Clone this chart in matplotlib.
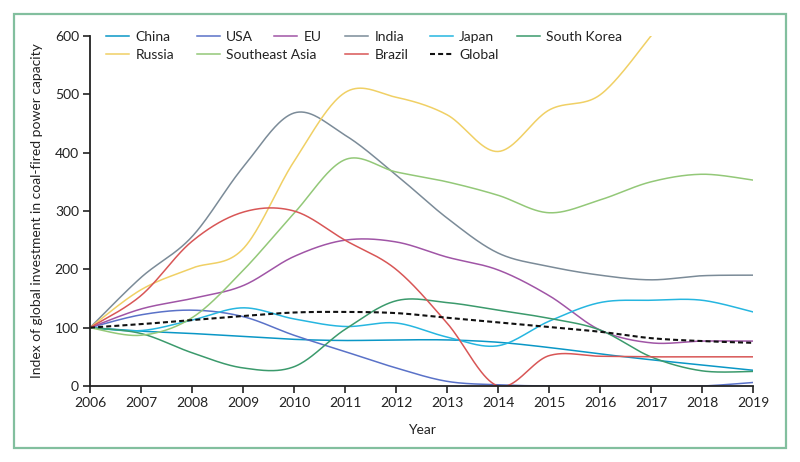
import numpy as np
import matplotlib
matplotlib.use("Agg")
import matplotlib.pyplot as plt
from matplotlib.patches import Rectangle

years = list(range(2006, 2020))

china = [100, 94, 90, 85, 80, 78, 79, 79, 75, 66, 55, 45, 36, 27]
usa = [100, 122, 130, 119, 87, 59, 31, 8, 2, 0, 0, 0, 0, 6]
eu = [100, 132, 150, 172, 222, 250, 247, 221, 199, 155, 96, 74, 77, 77]
india = [100, 186, 256, 375, 468, 430, 362, 288, 228, 205, 190, 182, 189, 190]
japan = [100, 95, 113, 134, 115, 102, 108, 84, 69, 111, 143, 147, 147, 127]
south_korea = [100, 90, 57, 31, 33, 97, 146, 143, 130, 116, 96, 50, 26, 25]
russia = [100, 165, 202, 235, 385, 503, 495, 465, 402, 473, 499, 600, np.nan, np.nan]
southeast_asia = [100, 87, 117, 198, 296, 388, 367, 350, 327, 297, 319, 350, 363, 353]
brazil = [100, 155, 248, 298, 300, 250, 200, 108, 0, 52, 51, 50, 50, 50]
global_idx = [100, 106, 113, 120, 126, 127, 125, 117, 109, 101, 93, 82, 77, 74]

series = [
    ("China", china, "#0a97c6", "-"),
    ("USA", usa, "#5a72c8", "-"),
    ("EU", eu, "#a055a6", "-"),
    ("India", india, "#7b8b98", "-"),
    ("Japan", japan, "#26b6e0", "-"),
    ("South Korea", south_korea, "#3b9a6c", "-"),
    ("Russia", russia, "#f0d065", "-"),
    ("Southeast Asia", southeast_asia, "#93c878", "-"),
    ("Brazil", brazil, "#d85656", "-"),
    ("Global", global_idx, "#111111", "--"),
]


def catmull_rom(x, y, n=40):
    x = np.asarray(x, float)
    y = np.asarray(y, float)
    m = ~np.isnan(y)
    x, y = x[m], y[m]
    px = np.concatenate([[x[0]], x, [x[-1]]])
    py = np.concatenate([[y[0]], y, [y[-1]]])
    xs, ys = [], []
    t = np.linspace(0, 1, n, endpoint=False)
    for i in range(1, len(px) - 2):
        def cr(a0, a1, a2, a3):
            return 0.5 * ((2 * a1) + (-a0 + a2) * t + (2 * a0 - 5 * a1 + 4 * a2 - a3) * t ** 2
                          + (-a0 + 3 * a1 - 3 * a2 + a3) * t ** 3)
        xs.append(cr(px[i - 1], px[i], px[i + 1], px[i + 2]))
        ys.append(cr(py[i - 1], py[i], py[i + 1], py[i + 2]))
    xs.append([x[-1]])
    ys.append([y[-1]])
    return np.concatenate(xs), np.concatenate(ys)


plt.rcParams["font.family"] = ["Lato", "DejaVu Sans"]

W, H = 800, 462
fig = plt.figure(figsize=(W / 100, H / 100), dpi=100)
ax = fig.add_axes([90 / W, 1 - 386 / H, (753 - 90) / W, (386 - 36) / H])

handles = {}
for name, vals, col, ls in series:
    xs, ys = catmull_rom(years, vals)
    if ls == "--":
        (ln,) = ax.plot(xs, ys, color=col, lw=1.5, ls=(0, (2.4, 1.5)), label=name)
    else:
        (ln,) = ax.plot(xs, ys, color=col, lw=1.1, label=name)
    handles[name] = ln

ax.set_xlim(2006, 2019)
ax.set_ylim(0, 600)
ax.set_xticks(years)
ax.set_yticks([0, 100, 200, 300, 400, 500, 600])
for s in ["top", "right"]:
    ax.spines[s].set_visible(False)
for s in ["left", "bottom"]:
    ax.spines[s].set_linewidth(1.3)
    ax.spines[s].set_color("#222222")
ax.tick_params(axis="both", direction="out", length=5, width=1.2, color="#222222",
               labelsize=10, labelcolor="#222222", pad=3)
ax.set_xlabel("Year", fontsize=10, color="#222222", labelpad=11)
ax.set_ylabel("Index of global investment in coal-fired power capacity", fontsize=10,
              color="#222222", labelpad=8.5)

# legend entries laid out in two rows (pixel positions of each entry's line start)
legend_layout = [
    ("China", 106, 37), ("USA", 197, 37), ("EU", 274, 37), ("India", 345, 37),
    ("Japan", 430, 37), ("South Korea", 517, 37),
    ("Russia", 106, 55), ("Southeast Asia", 197, 55), ("Brazil", 345, 55), ("Global", 430, 55),
]
for name, px, py in legend_layout:
    lg = fig.legend([handles[name]], [name], loc="center left",
                    bbox_to_anchor=(px / W, 1 - py / H), bbox_transform=fig.transFigure,
                    frameon=False, fontsize=10, handlelength=1.66, handletextpad=0.45,
                    borderpad=0, borderaxespad=0)
    for txt in lg.get_texts():
        txt.set_color("#222222")

fig.patches.append(Rectangle((14 / W, 1 - 448 / H), (786 - 14) / W, (448 - 14) / H,
                             transform=fig.transFigure, fill=False, edgecolor="#82bf9e",
                             lw=1.6))

fig.savefig("out.png", dpi=100)
